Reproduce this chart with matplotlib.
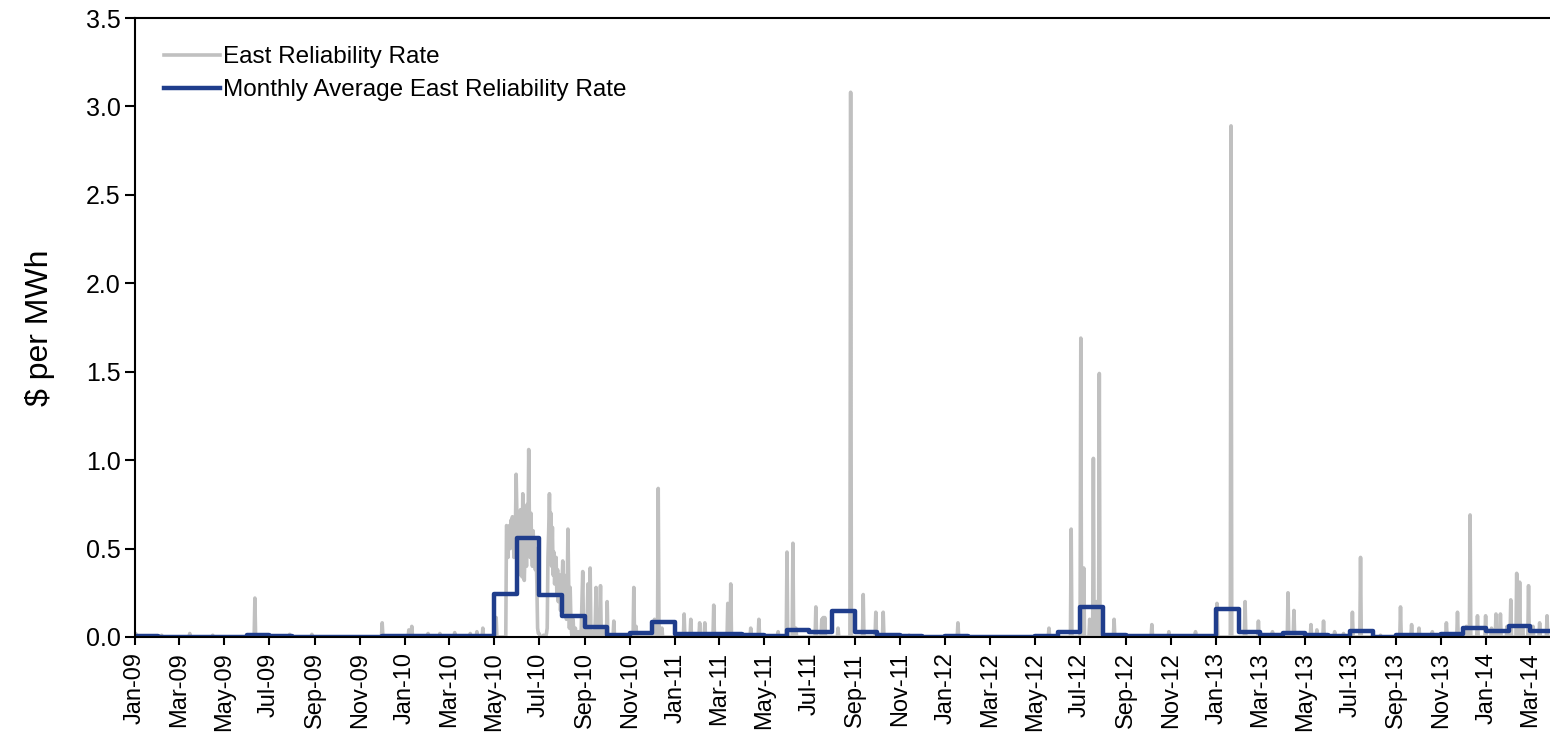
import matplotlib.pyplot as plt
import matplotlib.dates as mdates
import numpy as np
import pandas as pd

plt.rcParams['font.family'] = ['Liberation Sans Narrow', 'Liberation Sans', 'DejaVu Sans']

# daily east reliability rate ($/MWh): zero except for the days listed here
spike_dates = [
    "2009-01-02", "2009-02-06", "2009-03-16", "2009-04-16", "2009-06-12", "2009-07-29",
    "2009-08-28", "2009-12-01", "2010-01-06", "2010-01-10", "2010-02-01", "2010-02-17",
    "2010-03-09", "2010-03-30", "2010-04-08", "2010-04-16", "2010-05-04",
    "2010-10-01", "2010-10-10", "2010-11-06", "2010-11-09", "2010-12-04", "2010-12-09",
    "2010-12-10", "2010-12-14", "2011-01-13", "2011-01-22", "2011-02-03", "2011-02-10",
    "2011-02-22", "2011-03-13", "2011-03-17", "2011-04-13", "2011-04-24", "2011-05-20",
    "2011-06-01", "2011-06-09", "2011-06-13", "2011-07-10", "2011-07-18", "2011-07-20",
    "2011-07-22", "2011-08-09", "2011-08-26", "2011-09-12", "2011-09-29", "2011-10-09",
    "2011-11-13", "2012-01-18", "2012-05-20", "2012-06-19", "2012-07-02", "2012-07-06",
    "2012-07-14", "2012-07-19", "2012-07-23", "2012-07-27", "2012-08-16", "2012-10-06",
    "2012-10-29", "2012-12-04", "2013-01-02", "2013-01-21", "2013-02-09", "2013-02-27",
    "2013-03-18", "2013-04-08", "2013-04-16", "2013-05-09", "2013-05-17", "2013-05-26",
    "2013-06-10", "2013-06-22", "2013-07-04", "2013-07-15", "2013-08-11", "2013-09-07",
    "2013-09-22", "2013-10-02", "2013-10-20", "2013-11-08", "2013-11-23", "2013-12-05",
    "2013-12-10", "2013-12-20", "2013-12-31", "2014-01-08", "2014-01-14", "2014-01-20",
    "2014-01-29", "2014-02-03", "2014-02-11", "2014-02-15", "2014-02-19", "2014-02-27",
    "2014-03-05", "2014-03-14", "2014-03-24",
]
spike_values = [
    0.02, 0.01, 0.02, 0.01, 0.22, 0.015,
    0.015, 0.08, 0.04, 0.06, 0.02, 0.02,
    0.025, 0.02, 0.03, 0.05, 0.11,
    0.20, 0.09, 0.28, 0.06, 0.10, 0.84,
    0.08, 0.05, 0.13, 0.10, 0.08, 0.08,
    0.18, 0.19, 0.30, 0.05, 0.10, 0.03,
    0.48, 0.53, 0.05, 0.17, 0.10, 0.11,
    0.11, 0.05, 3.08, 0.24, 0.14, 0.14,
    0.01, 0.08, 0.05, 0.61, 1.69, 0.39,
    0.10, 1.01, 0.20, 1.49, 0.10, 0.07,
    0.03, 0.03, 0.19, 2.89, 0.20, 0.09,
    0.03, 0.25, 0.15, 0.07, 0.04, 0.09,
    0.03, 0.02, 0.14, 0.45, 0.01, 0.17,
    0.07, 0.05, 0.03, 0.08, 0.14, 0.06,
    0.69, 0.12, 0.12, 0.05, 0.13, 0.13,
    0.06, 0.21, 0.36, 0.31, 0.05, 0.29,
    0.06, 0.08, 0.12,
]

# summer 2010 high-price period, one value per day from dense_start
dense_start = "2010-05-18"
dense_values = [
    # May 18-31
    0.63, 0.62, 0.45, 0.60, 0.63, 0.50, 0.66, 0.58, 0.68, 0.62, 0.45, 0.66, 0.60, 0.92,
    # June
    0.70, 0.55, 0.35, 0.60, 0.40, 0.72, 0.50, 0.34, 0.81, 0.55, 0.32, 0.48, 0.60, 0.40, 0.75,
    0.55, 1.06, 0.62, 0.45, 0.70, 0.52, 0.40, 0.60, 0.48, 0.55, 0.38, 0.50, 0.30, 0.05, 0.02,
    # July
    0.02, 0.01, 0.00, 0.00, 0.00, 0.00, 0.01, 0.00, 0.00, 0.00, 0.02, 0.05, 0.45, 0.60, 0.81,
    0.55, 0.70, 0.40, 0.62, 0.35, 0.48, 0.30, 0.42, 0.45, 0.25, 0.38, 0.20, 0.30, 0.35, 0.15, 0.25,
    # August
    0.30, 0.43, 0.20, 0.35, 0.15, 0.30, 0.10, 0.25, 0.61, 0.30, 0.05, 0.28, 0.10, 0.02, 0.00,
    0.10, 0.00, 0.00, 0.05, 0.00, 0.00, 0.00, 0.03, 0.00, 0.00, 0.00, 0.05, 0.20, 0.37, 0.05, 0.00,
    # September
    0.00, 0.02, 0.00, 0.10, 0.30, 0.05, 0.00, 0.39, 0.05, 0.00, 0.00, 0.03, 0.00, 0.00, 0.10,
    0.28, 0.00, 0.05, 0.00, 0.00, 0.10, 0.29, 0.02, 0.00, 0.00, 0.00, 0.05, 0.00, 0.00, 0.00,
]

# monthly average, Jan-09 .. Mar-14
month_avg = [
    0.004, 0.002, 0.002, 0.002, 0.002, 0.010, 0.003, 0.002, 0.002, 0.002, 0.002, 0.004,
    0.005, 0.004, 0.004, 0.005, 0.245, 0.560, 0.235, 0.120, 0.055, 0.012, 0.020, 0.085,
    0.015, 0.015, 0.015, 0.010, 0.004, 0.040, 0.030, 0.145, 0.030, 0.010, 0.003, 0.002,
    0.003, 0.002, 0.002, 0.002, 0.004, 0.028, 0.172, 0.010, 0.003, 0.006, 0.008, 0.006,
    0.157, 0.027, 0.010, 0.020, 0.013, 0.007, 0.036, 0.001, 0.013, 0.009, 0.017, 0.050,
    0.034, 0.062, 0.036,
]

days = pd.date_range("2009-01-01", "2014-03-31", freq="D")
daily = pd.Series(0.0, index=days)
daily[pd.to_datetime(spike_dates)] = spike_values
daily[pd.date_range(dense_start, periods=len(dense_values), freq="D")] = dense_values

months = pd.date_range("2009-01-01", periods=len(month_avg) + 1, freq="MS")
step_y = month_avg + [month_avg[-1]]

fig = plt.figure(figsize=(15.5, 7.35), dpi=100)
ax = fig.add_axes([135 / 1550, 98 / 735, 1415 / 1550, 619 / 735])

ax.plot(daily.index, daily.values, color="#c0c0c0", lw=2.6, label="East Reliability Rate")
ax.step(months, step_y, where="post", color="#1f3d8c", lw=3.2,
        label="Monthly Average East Reliability Rate")

ax.set_xlim(pd.Timestamp("2009-01-01"), pd.Timestamp("2014-03-28"))
ax.set_ylim(0, 3.5)
ax.set_yticks(np.arange(0, 3.51, 0.5))
ax.yaxis.set_major_formatter(plt.FormatStrFormatter("%.1f"))
ax.xaxis.set_major_locator(mdates.MonthLocator(bymonth=[1, 3, 5, 7, 9, 11]))
ax.xaxis.set_major_formatter(mdates.DateFormatter("%b-%y"))
ax.tick_params(axis="x", labelrotation=90, labelsize=17, length=6, width=1.5, direction="out", pad=5)
ax.tick_params(axis="y", labelsize=18, length=7, width=1.5, direction="out")
ax.set_ylabel("$ per MWh", fontsize=23, labelpad=22)

ax.spines["right"].set_visible(False)
for s in ["left", "top", "bottom"]:
    ax.spines[s].set_linewidth(1.5)

ax.legend(loc="upper left", bbox_to_anchor=(0.005, 0.99), frameon=False, fontsize=17.5,
          handlelength=2.3, handletextpad=0.15, labelspacing=0.45)

fig.savefig("out.png", dpi=100)
